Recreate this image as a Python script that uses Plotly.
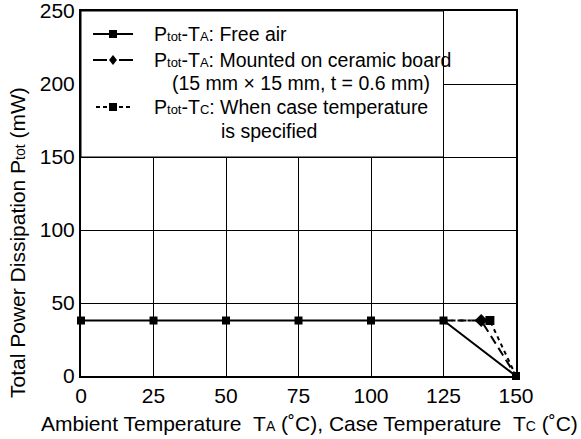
import plotly.graph_objects as go

# ---- data ----
x_ticks = [0, 25, 50, 75, 100, 125, 150]
y_ticks = [0, 50, 100, 150, 200, 250]

free_air_t = [0, 25, 50, 75, 100, 125, 150]
free_air_p = [38, 38, 38, 38, 38, 38, 0]

ceramic_t = [125, 138, 150]
ceramic_p = [38, 38, 0]

case_t = [125, 141, 150]
case_p = [38, 38, 0]

# ---- layout geometry (pixels) ----
W, H = 581, 439
L, R, T, B = 81, 516, 11, 376  # plot area edges


def px(x):
    return (x - L) / (R - L)


def py(y):
    return (B - y) / (B - T)


FONT = "Liberation Sans, Arial, Helvetica, sans-serif"
FS = 21    # tick labels
FL = 19.5  # legend text
FT = 21    # axis titles
SUB = "<span style='font-size:14px'>{}</span>"
SUBL = "<span style='font-size:13px'>{}</span>"

fig = go.Figure()

fig.add_trace(go.Scatter(
    x=ceramic_t, y=ceramic_p, mode="lines+markers",
    line=dict(color="black", width=2, dash="9px,5px"),
    marker=dict(symbol="diamond", size=[0, 10, 0], color="black", opacity=1, line=dict(width=0)),
    cliponaxis=False, showlegend=False, hoverinfo="skip"))

fig.add_trace(go.Scatter(
    x=case_t, y=case_p, mode="lines+markers",
    line=dict(color="black", width=2, dash="4px,4px"),
    marker=dict(symbol="square", size=[0, 9, 0], color="black", opacity=1, line=dict(width=0)),
    cliponaxis=False, showlegend=False, hoverinfo="skip"))

fig.add_trace(go.Scatter(
    x=free_air_t, y=free_air_p, mode="lines+markers",
    line=dict(color="black", width=2),
    marker=dict(symbol="square", size=8, color="black", opacity=1, line=dict(width=0)),
    cliponaxis=False, showlegend=False, hoverinfo="skip"))

axis_common = dict(
    showgrid=True, gridcolor="black", gridwidth=1,
    showline=True, linecolor="black", linewidth=2, mirror=True,
    ticks="", zeroline=False, automargin=False, ticklabeloverflow="allow",
    tickfont=dict(family=FONT, size=FS, color="black"),
)

fig.update_layout(
    width=W, height=H,
    margin=dict(l=L, r=W - R, t=T, b=H - B, pad=0),
    plot_bgcolor="white", paper_bgcolor="white",
    font=dict(family=FONT, size=FS, color="black"),
    xaxis=dict(range=[0, 150], tickvals=x_ticks, ticktext=[str(v) for v in x_ticks], **axis_common),
    yaxis=dict(range=[0, 250], tickvals=y_ticks, ticktext=[str(v) for v in y_ticks], **axis_common),
)

shapes = []
# legend box (covers grid)
shapes.append(dict(type="rect", xref="x", yref="y", x0=0, x1=125, y0=150, y1=250,
                   fillcolor="white", line=dict(color="black", width=1), layer="between"))

# legend samples
shapes.append(dict(type="line", xref="paper", yref="paper", x0=px(93), x1=px(133), y0=py(34), y1=py(34),
                   line=dict(color="black", width=2), layer="above"))
shapes.append(dict(type="rect", xref="paper", yref="paper", x0=px(109), x1=px(117), y0=py(30), y1=py(38),
                   fillcolor="black", line=dict(width=0), layer="above"))
shapes.append(dict(type="line", xref="paper", yref="paper", x0=px(93), x1=px(107), y0=py(60), y1=py(60),
                   line=dict(color="black", width=2), layer="above"))
shapes.append(dict(type="line", xref="paper", yref="paper", x0=px(119), x1=px(133), y0=py(60), y1=py(60),
                   line=dict(color="black", width=2), layer="above"))
shapes.append(dict(type="path", xref="paper", yref="paper",
                   path=f"M {px(113)} {py(55)} L {px(117)} {py(60)} L {px(113)} {py(65)} L {px(109)} {py(60)} Z",
                   fillcolor="black", line=dict(width=0), layer="above"))
for a, b in [(96, 100), (103, 107), (119, 123), (126, 130)]:
    shapes.append(dict(type="line", xref="paper", yref="paper", x0=px(a), x1=px(b), y0=py(107), y1=py(107),
                       line=dict(color="black", width=2), layer="above"))
shapes.append(dict(type="rect", xref="paper", yref="paper", x0=px(109), x1=px(117), y0=py(103), y1=py(111),
                   fillcolor="black", line=dict(width=0), layer="above"))
fig.update_layout(shapes=shapes)

ptot_l = "P" + SUBL.format("tot")
legend_lines = [
    (152, 34, f"{ptot_l}-T{SUBL.format('A')}: Free air"),
    (152, 60, f"{ptot_l}-T{SUBL.format('A')}: Mounted on ceramic board"),
    (170, 83, "(15 mm \u00d7 15 mm, t = 0.6 mm)"),
    (152, 107, f"{ptot_l}-T{SUBL.format('C')}: When case temperature"),
    (219, 131, "is specified"),
]
anns = []
for x, y, t in legend_lines:
    anns.append(dict(xref="paper", yref="paper", x=px(x), y=py(y), xanchor="left", yanchor="middle",
                     text=t, showarrow=False, font=dict(family=FONT, size=FL, color="black")))

ptot = "P" + SUB.format("tot")
anns.append(dict(xref="paper", yref="paper", x=px(309), y=py(423), xanchor="center", yanchor="middle",
                 text=f"Ambient Temperature\u00a0\u00a0T{SUB.format('A')} (\u02daC), Case Temperature\u00a0\u00a0T{SUB.format('C')} (\u02daC)",
                 showarrow=False, font=dict(family=FONT, size=FT, color="black")))
anns.append(dict(xref="paper", yref="paper", x=px(17), y=py(243), xanchor="center", yanchor="middle",
                 textangle=-90, text=f"Total Power Dissipation {ptot} (mW)",
                 showarrow=False, font=dict(family=FONT, size=FT, color="black")))
fig.update_layout(annotations=anns)

fig.write_html("out.html", config={"displayModeBar": False},
               post_script="document.body.style.margin='0';document.body.style.padding='0';")
